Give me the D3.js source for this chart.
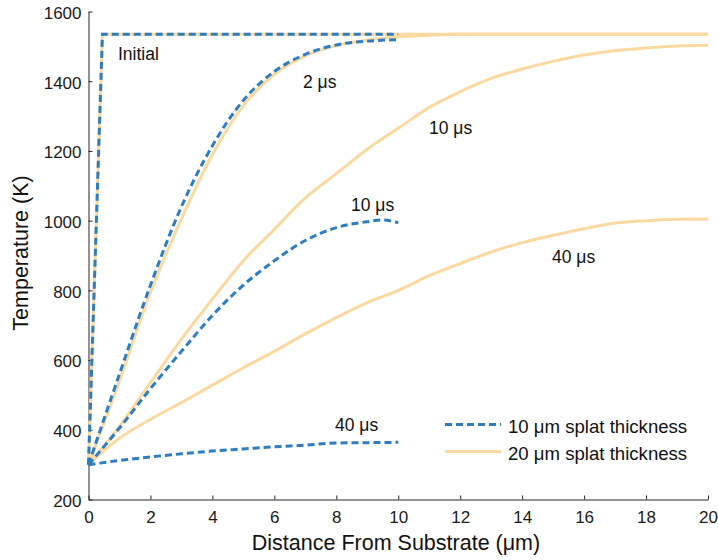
<!DOCTYPE html>
<html>
<head>
<meta charset="utf-8">
<script src="https://cdn.jsdelivr.net/npm/d3@7"></script>
<style>
  html, body { margin: 0; padding: 0; background: #fff; }
  svg { display: block; font-family: "Liberation Sans", Arial, Helvetica, sans-serif; }
</style>
</head>
<body>
<svg id="chart" width="718" height="560"></svg>
<script>
// ---- data ----
const xTicks = [0, 2, 4, 6, 8, 10, 12, 14, 16, 18, 20];
const yTicks = [200, 400, 600, 800, 1000, 1200, 1400, 1600];

// 10 µm splat thickness (blue dashed)
const thin_initial_x = [0, 0.45, 10];
const thin_initial_T = [300, 1535, 1535];
const thin_2us_x = [0, 1, 2, 3, 4, 5, 6, 7, 8, 9, 10];
const thin_2us_T = [300, 560, 815, 1040, 1215, 1345, 1428, 1477, 1504, 1515, 1519];
const thin_10us_x = [0, 1, 2, 3, 4, 5, 6, 7, 8, 9, 9.5, 10];
const thin_10us_T = [300, 405, 518, 625, 728, 815, 885, 943, 980, 997, 1002, 994];
const thin_40us_x = [0, 1, 2, 3, 4, 5, 6, 7, 8, 9, 10];
const thin_40us_T = [300, 312, 322, 331, 339, 345, 351, 356, 362, 363, 364];

// 20 µm splat thickness (orange solid)
const thick_initial_x = [0, 0.45, 20];
const thick_initial_T = [300, 1535, 1535];
const thick_2us_x = [0, 1, 2, 3, 4, 5, 6, 7, 8, 9, 10, 11, 12, 20];
const thick_2us_T = [300, 540, 795, 1005, 1190, 1330, 1420, 1473, 1502, 1518, 1527, 1532, 1535, 1535];
const thick_10us_x = [0, 1, 2, 3, 4, 5, 6, 7, 8, 9, 10, 11, 12, 13, 14, 15, 16, 17, 18, 19, 20];
const thick_10us_T = [300, 410, 535, 660, 775, 885, 975, 1065, 1135, 1205, 1265, 1325, 1370, 1408, 1435, 1457, 1475, 1488, 1495, 1501, 1503];
const thick_40us_x = [0, 1, 2, 3, 4, 5, 6, 7, 8, 9, 10, 11, 12, 13, 14, 15, 16, 17, 18, 19, 20];
const thick_40us_T = [300, 376, 430, 478, 528, 578, 625, 675, 722, 765, 800, 842, 877, 910, 937, 958, 977, 993, 1000, 1004, 1005];

const legendLabels = ["10 \u03bcm splat thickness", "20 \u03bcm splat thickness"];
const annotations = [
  { text: "Initial", x: 118, y: 60 },
  { text: "2 \u03bcs", x: 303, y: 88 },
  { text: "10 \u03bcs", x: 351, y: 211 },
  { text: "10 \u03bcs", x: 429, y: 134 },
  { text: "40 \u03bcs", x: 552, y: 263 },
  { text: "40 \u03bcs", x: 335, y: 431 }
];

// ---- layout ----
const BLUE = "#2e7dbf";
const ORANGE = "#fdd9a2";
const svg = d3.select("#chart");
const x = d3.scaleLinear().domain([0, 20]).range([88.5, 708]);
const y = d3.scaleLinear().domain([200, 1600]).range([499.5, 11.5]);

const zip = (xs, ts) => xs.map((v, i) => [v, ts[i]]);

const thickSeries = [
  { d: zip(thick_initial_x, thick_initial_T), linear: true },
  { d: zip(thick_2us_x, thick_2us_T) },
  { d: zip(thick_10us_x, thick_10us_T) },
  { d: zip(thick_40us_x, thick_40us_T) }
];
const thinSeries = [
  { d: zip(thin_initial_x, thin_initial_T), linear: true },
  { d: zip(thin_2us_x, thin_2us_T) },
  { d: zip(thin_10us_x, thin_10us_T) },
  { d: zip(thin_40us_x, thin_40us_T) }
];

const lineSmooth = d3.line().x(d => x(d[0])).y(d => y(d[1])).curve(d3.curveMonotoneX);
const lineLin = d3.line().x(d => x(d[0])).y(d => y(d[1]));

// axes
const xAxis = d3.axisBottom(x).tickValues(xTicks).tickFormat(d3.format("d"))
  .tickSizeInner(-4).tickSizeOuter(0).tickPadding(8);
const yAxis = d3.axisLeft(y).tickValues(yTicks).tickFormat(d3.format("d"))
  .tickSizeInner(-4).tickSizeOuter(0).tickPadding(8);

const gx = svg.append("g").attr("transform", `translate(0,${y(200)})`).call(xAxis);
const gy = svg.append("g").attr("transform", `translate(${x(0)},0)`).call(yAxis);
[gx, gy].forEach(g => {
  g.select(".domain").attr("stroke", "#262626").attr("stroke-width", 1);
  g.selectAll(".tick line").attr("stroke", "#262626");
  g.selectAll(".tick text").attr("fill", "#1a1a1a").style("font-size", "17px")
    .style("font-family", '"Liberation Sans", Arial, sans-serif');
});
gx.selectAll(".tick text").attr("dy", "0.71em").attr("y", 11);
gy.selectAll(".tick text").attr("x", -7).attr("dy", "0.4em");

// lines
const lines = svg.append("g");
thickSeries.forEach(s => {
  lines.append("path").attr("d", (s.linear ? lineLin : lineSmooth)(s.d))
    .attr("fill", "none").attr("stroke", ORANGE).attr("stroke-width", 3)
    .attr("stroke-linejoin", "round");
});
thinSeries.forEach(s => {
  lines.append("path").attr("d", (s.linear ? lineLin : lineSmooth)(s.d))
    .attr("fill", "none").attr("stroke", BLUE).attr("stroke-width", 3)
    .attr("stroke-dasharray", "7,4");
});

// annotations
svg.append("g").selectAll("text").data(annotations).join("text")
  .attr("x", d => d.x).attr("y", d => d.y)
  .attr("fill", "#111").style("font-size", "17.5px").text(d => d.text);

// legend
const leg = svg.append("g");
const legY = [424.5, 451.5];
leg.append("line").attr("x1", 445).attr("x2", 501).attr("y1", legY[0]).attr("y2", legY[0])
  .attr("stroke", BLUE).attr("stroke-width", 3).attr("stroke-dasharray", "7,4");
leg.append("line").attr("x1", 445).attr("x2", 501).attr("y1", legY[1]).attr("y2", legY[1])
  .attr("stroke", ORANGE).attr("stroke-width", 3);
leg.selectAll("text").data(legendLabels).join("text")
  .attr("x", 508).attr("y", (d, i) => legY[i] + 8.5)
  .attr("fill", "#111").style("font-size", "18.6px").text(d => d);

// axis titles
svg.append("text").attr("x", 396).attr("y", 550).attr("text-anchor", "middle")
  .attr("fill", "#111").style("font-size", "21.5px").text("Distance From Substrate (\u03bcm)");
svg.append("text").attr("transform", "translate(28,253) rotate(-90)").attr("text-anchor", "middle")
  .attr("fill", "#111").style("font-size", "21.5px").text("Temperature (K)");
</script>
</body>
</html>
